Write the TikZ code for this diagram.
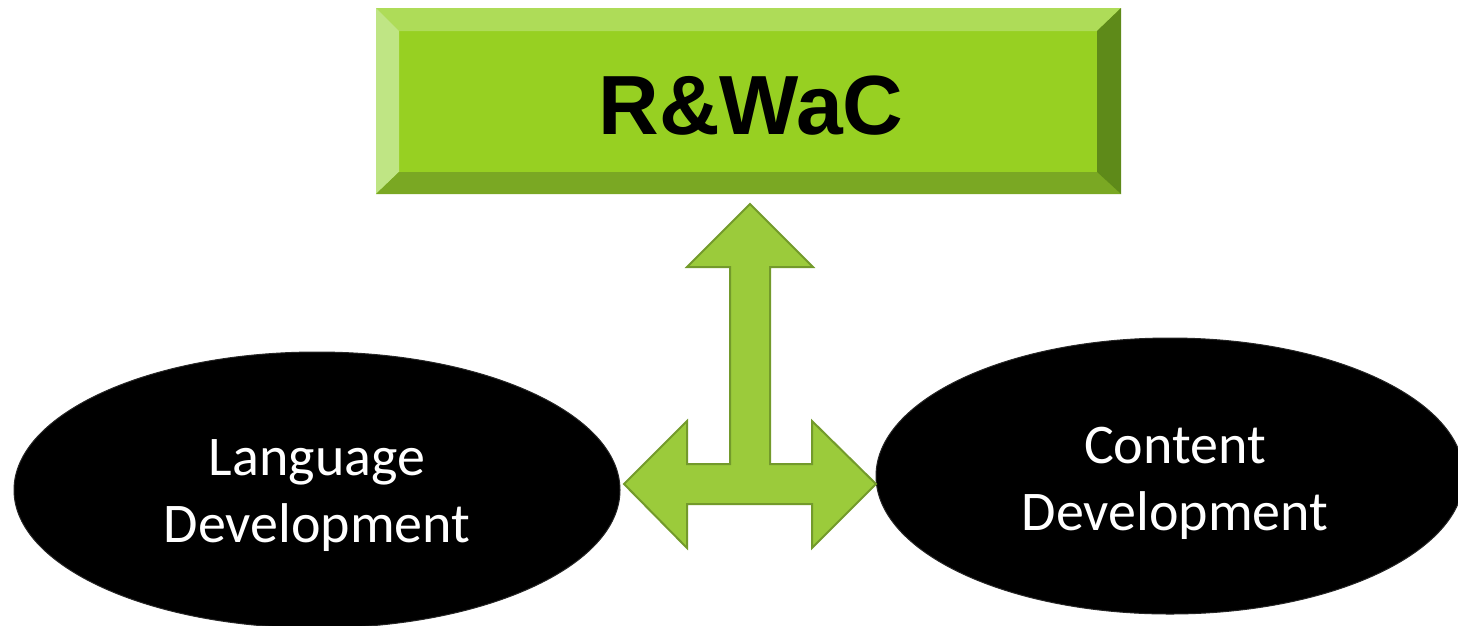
\documentclass[tikz,border=0pt]{standalone}
\usepackage{fontspec}
\setmainfont{Carlito}
\newfontfamily\headfont{Liberation Sans}
\usetikzlibrary{shapes.geometric}
\definecolor{face}{HTML}{97D022}
\definecolor{bevtop}{HTML}{AEDC58}
\definecolor{bevleft}{HTML}{BFE584}
\definecolor{bevbot}{HTML}{7AA823}
\definecolor{bevright}{HTML}{5E8A19}
\definecolor{arrfill}{HTML}{9BCB3B}
\definecolor{arrline}{HTML}{739A2B}
\tikzset{
  blob/.style={ellipse, fill=black, draw=black!85, line width=1pt, inner sep=0pt,
    minimum width=#1, minimum height=276pt},
  blobtext/.style={text=white, align=center, inner sep=0pt,
    font=\fontsize{56}{67}\selectfont},
  blockarrow/.style={fill=arrfill, draw=arrline, line width=2pt, line join=miter},
}
\begin{document}
\begin{tikzpicture}[x=1pt,y=-1pt]
\useasboundingbox (0,0) rectangle (1458,625);
% top bevelled box
\node[rectangle, fill=face, inner sep=0pt, minimum width=745pt, minimum height=186pt] (box) at (748.5,101) {};
\fill[bevtop] (376,8) -- (1121,8) -- (1097,31) -- (399,31) -- cycle;
\fill[bevleft] (376,8) -- (399,31) -- (399,172) -- (376,194) -- cycle;
\fill[bevbot] (376,194) -- (399,172) -- (1097,172) -- (1121,194) -- cycle;
\fill[bevright] (1121,8) -- (1097,31) -- (1097,172) -- (1121,194) -- cycle;
\node[font=\headfont\bfseries\fontsize{84}{90}\selectfont, inner sep=0pt] (title) at (751,106) {R\&WaC};
% ellipses
\node[blob=606pt] (lang) at (317,490) {};
\node[blob=588pt] (cont) at (1170,476) {};
\node[blobtext] (langtext) at ([yshift=-6pt]lang.center) {Language\\Development};
\node[blobtext] (conttext) at ([xshift=5pt,yshift=-7pt]cont.center) {Content\\Development};
% three-way block arrow
\coordinate (tipU) at (750,204);
\coordinate (tipL) at (624,484);
\coordinate (tipR) at (876,484);
\draw[blockarrow] (tipU) -- (813,267) -- (770,267) -- (770,464) -- (812,464) -- (812,421)
  -- (tipR) -- (812,548) -- (812,504) -- (687,504) -- (687,548) -- (tipL)
  -- (687,421) -- (687,464) -- (730,464) -- (730,267) -- (687,267) -- cycle;
\end{tikzpicture}
\end{document}
